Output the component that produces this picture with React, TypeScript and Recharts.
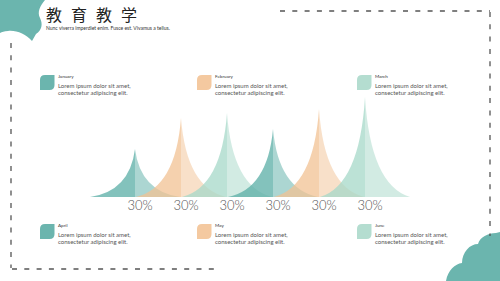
import { BarChart, Bar, XAxis, YAxis, Cell } from 'recharts'

// chart values
const months = ['January', 'February', 'March', 'April', 'May', 'June']
const peakValues = [48, 79, 84, 68, 88, 100]
const peakLabels = ['30%', '30%', '30%', '30%', '30%', '30%']
const descLines = ['Lorem ipsum dolor sit amet,', 'consectetur adipiscing elit.']

const title = '教育教学'
const subtitle = 'Nunc viverra imperdiet enim. Fusce est. Vivamus a tellus.'

const peakColors = ['#5aaea5', '#f2c193', '#a6d8c8']
const iconColors = ['#6bb5ae', '#f4c9a0', '#b4ddd0']

const data = peakValues.map((value, i) => ({ name: months[i], label: peakLabels[i], value }))

const HALF_WIDTH = 45

function Spike(props: any) {
  const { x, y, width, height, fill } = props
  if (height == null || height <= 0) return null
  const cx = x + width / 2
  const base = y + height
  const top = y
  const h = height
  const left = `M${cx - HALF_WIDTH},${base} Q${cx - HALF_WIDTH * 0.12},${base - h * 0.12} ${cx},${top} L${cx},${base} Z`
  const right = `M${cx + HALF_WIDTH},${base} Q${cx + HALF_WIDTH * 0.12},${base - h * 0.12} ${cx},${top} L${cx},${base} Z`
  return (
    <g>
      <path d={left} fill={fill} fillOpacity={0.75} />
      <path d={right} fill={fill} fillOpacity={0.5} />
    </g>
  )
}

function PercentTick(props: any) {
  const { x, y, payload } = props
  return (
    <text
      x={x + 5}
      y={y + 5}
      textAnchor="middle"
      fill="#555"
      fontSize={13}
      fontWeight={300}
      fontFamily="Lato, sans-serif"
    >
      {payload.value}
    </text>
  )
}

function LegendItem({ month, color, x, y }: { month: string; color: string; x: number; y: number }) {
  return (
    <div style={{ position: 'absolute', left: x, top: y }}>
      <svg width={15} height={15} style={{ position: 'absolute', left: 0, top: 0 }}>
        <path d="M5,0 L14.5,0 L14.5,10 Q14.5,15 9.5,15 L0,15 L0,5 Q0,0 5,0 Z" fill={color} />
      </svg>
      <div style={{ position: 'absolute', left: 18, top: -2, fontSize: 4.6, color: '#333', whiteSpace: 'nowrap' }}>
        {month}
      </div>
      <div
        style={{
          position: 'absolute',
          left: 18,
          top: 8,
          fontSize: 6,
          lineHeight: '6.8px',
          color: '#555',
          whiteSpace: 'nowrap',
        }}
      >
        {descLines[0]}
        <br />
        {descLines[1]}
      </div>
    </div>
  )
}

export default function App() {
  const cols = [40, 197, 357]
  const rows = [75, 224]
  return (
    <div
      style={{
        position: 'absolute',
        left: 0,
        top: 0,
        width: 500,
        height: 281,
        overflow: 'hidden',
        background: '#fff',
        fontFamily: 'Lato, "Noto Sans", sans-serif',
      }}
    >
      <svg width={500} height={281} style={{ position: 'absolute', left: 0, top: 0 }}>
        {/* top-left blob */}
        <path
          d="M0,0 L45,0 C40,6 37,12 40,18 C43,24 42,30 36,34 L32,41 C26,34 16,30 8,31 C4,31 2,32 0,33 Z"
          fill="#6bb5ae"
        />
        {/* bottom-right blob */}
        <path
          d="M446,281 C448,270 455,264 462,263 C462,252 470,244 478,244 C480,237 488,233 496,233 L500,232 L500,281 Z"
          fill="#6bb5ae"
        />
        <g stroke="#555" strokeWidth={1.3} strokeDasharray="5 7.3" fill="none">
          <line x1={11} y1={43} x2={11} y2={268} />
          <line x1={12} y1={269} x2={221} y2={269} />
          <line x1={280} y1={11} x2={490} y2={11} />
          <line x1={490} y1={12} x2={490} y2={236} />
        </g>
      </svg>

      <div
        style={{
          position: 'absolute',
          left: 46,
          top: 4,
          fontSize: 16,
          letterSpacing: 9,
          color: '#222',
          fontFamily: '"Noto Sans CJK SC", sans-serif',
          whiteSpace: 'nowrap',
          lineHeight: '20px',
        }}
      >
        {title}
      </div>
      <div
        style={{
          position: 'absolute',
          left: 46,
          top: 25,
          fontSize: 5,
          color: '#333',
          whiteSpace: 'nowrap',
        }}
      >
        {subtitle}
      </div>

      {months.map((m, i) => (
        <LegendItem
          key={m}
          month={m}
          color={iconColors[i % 3]}
          x={cols[i % 3]}
          y={rows[Math.floor(i / 3)]}
        />
      ))}

      <div style={{ position: 'absolute', left: 80, top: 80 }}>
        <BarChart
          width={360}
          height={140}
          data={data}
          margin={{ top: 17, right: 52, bottom: 0, left: 32 }}
          barCategoryGap={0}
        >
          <XAxis
            dataKey="label"
            axisLine={false}
            tickLine={false}
            height={23}
            interval={0}
            tick={<PercentTick />}
          />
          <YAxis hide domain={[0, 100]} />
          <Bar dataKey="value" shape={<Spike />} isAnimationActive={false}>
            {data.map((d, i) => (
              <Cell key={d.name} fill={peakColors[i % 3]} />
            ))}
          </Bar>
        </BarChart>
      </div>
    </div>
  )
}
